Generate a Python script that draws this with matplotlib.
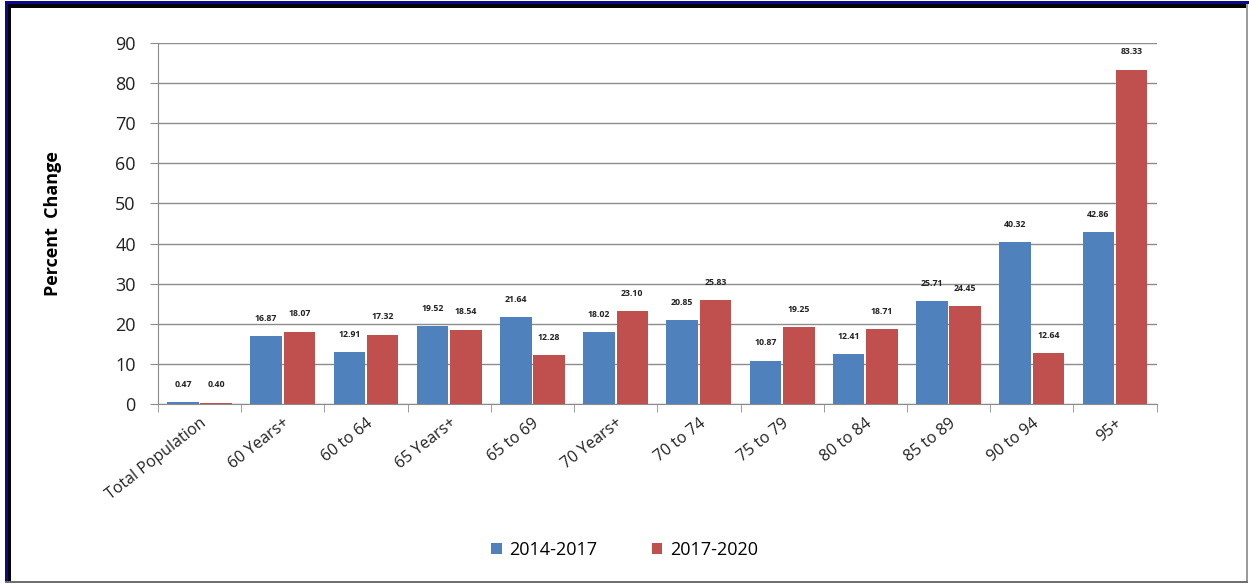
import numpy as np
import matplotlib
matplotlib.use('Agg')
import matplotlib.pyplot as plt
from matplotlib.patches import Rectangle

plt.rcParams['font.family'] = ['Open Sans', 'DejaVu Sans']

categories = ['Total Population', '60 Years+', '60 to 64', '65 Years+', '65 to 69',
              '70 Years+', '70 to 74', '75 to 79', '80 to 84', '85 to 89', '90 to 94', '95+']
change_2014_2017 = [0.47, 16.87, 12.91, 19.52, 21.64, 18.02, 20.85, 10.87, 12.41, 25.71, 40.32, 42.86]
change_2017_2020 = [0.40, 18.07, 17.32, 18.54, 12.28, 23.10, 25.83, 19.25, 18.71, 24.45, 12.64, 83.33]

blue = '#4F81BD'
red = '#C0504D'

W, H = 1249, 584
fig = plt.figure(figsize=(W / 100, H / 100), dpi=100)
ax = fig.add_axes([0.1265, 0.308, 0.7995, 0.6185])

x = np.arange(len(categories))
w = 0.38
b1 = ax.bar(x - 0.2, change_2014_2017, w, color=blue, label='2014-2017', zorder=3)
b2 = ax.bar(x + 0.2, change_2017_2020, w, color=red, label='2017-2020', zorder=3)

for bars, vals in ((b1, change_2014_2017), (b2, change_2017_2020)):
    for rect, v in zip(bars, vals):
        ax.text(rect.get_x() + rect.get_width() / 2, v + 3.3, f'{v:.2f}',
                ha='center', va='bottom', fontsize=6.3, fontweight='bold', color='#222222')

ax.set_xlim(-0.5, len(categories) - 0.5)
ax.set_ylim(0, 90)
ax.set_yticks(range(0, 91, 10))
ax.yaxis.grid(True, color='#8c8c8c', linewidth=1, zorder=0)
ax.tick_params(axis='y', labelsize=13, length=6, color='#8c8c8c', labelcolor='#222222', pad=10)

ax.set_xticks(x)
ax.set_xticklabels(categories, rotation=38, ha='right', rotation_mode='anchor', fontsize=11.5)
ax.tick_params(axis='x', which='major', length=0, pad=8, labelcolor='#222222')
ax.set_xticks(np.arange(-0.5, len(categories)), minor=True)
ax.tick_params(axis='x', which='minor', length=6, color='#8c8c8c')

for side in ('top', 'right'):
    ax.spines[side].set_visible(False)
for side in ('left', 'bottom'):
    ax.spines[side].set_color('#8c8c8c')

ax.set_ylabel('Percent  Change', fontsize=13, fontweight='bold', labelpad=38)

fig.legend(handles=[b1, b2], loc='center', bbox_to_anchor=(0.5, 0.058), ncol=2,
           frameon=False, fontsize=13, handlelength=0.6, handleheight=0.6,
           columnspacing=3, handletextpad=0.4)


def frame_band(x0, y0, x1, y1, color):
    # pixel box measured from the top-left corner
    fig.patches.append(Rectangle((x0 / W, 1 - y1 / H), (x1 - x0) / W, (y1 - y0) / H,
                                 transform=fig.transFigure, facecolor=color,
                                 edgecolor='none', zorder=10))


# window frame: navy outer edge, black inner edge on top/left, grey on right/bottom
frame_band(5, 1, W, 4, '#0a0a8a')
frame_band(8, 4, W - 3, 8, '#050505')
frame_band(5, 1, 8, H - 2, '#0a0a8a')
frame_band(8, 4, 11, H - 2, '#050505')
frame_band(W - 3, 4, W - 1, H - 1, '#9a9a9a')
frame_band(5, H - 3, W - 1, H - 1, '#707070')

fig.savefig('out.png', dpi=100)
